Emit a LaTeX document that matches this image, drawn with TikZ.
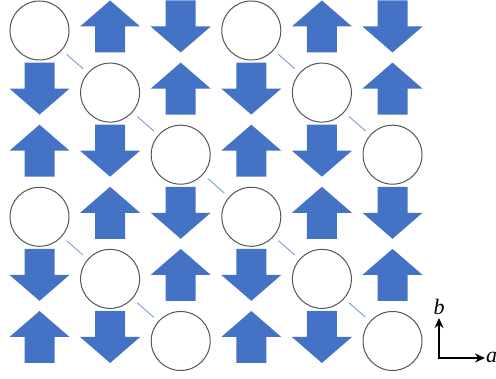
\documentclass[tikz,border=0pt]{standalone}
\usepackage{fontspec}
\newfontfamily\lserif{Liberation Serif}
\usetikzlibrary{arrows.meta}
\definecolor{arrowblue}{RGB}{68,114,196}
\definecolor{linkblue}{RGB}{120,155,222}
\definecolor{ringgray}{RGB}{85,85,85}
\tikzset{
  site/.style={circle, draw=ringgray, line width=1pt, fill=white, minimum size=59pt, inner sep=0pt},
  link/.style={draw=linkblue, line width=0.9pt, shorten <=6pt, shorten >=6pt},
  axis/.style={draw=black, line width=2.2pt, -{Stealth[length=10pt,width=9pt]}},
  axlabel/.style={inner sep=0pt, font=\lserif\itshape\fontsize{22}{22}\selectfont},
  uparr/.pic={\fill[arrowblue] (0,-26) -- (30,0) -- (15,0) -- (15,26) -- (-15,26) -- (-15,0) -- (-30,0) -- cycle;},
  dnarr/.pic={\fill[arrowblue] (0,26) -- (30,0) -- (15,0) -- (15,-26) -- (-15,-26) -- (-15,0) -- (-30,0) -- cycle;}
}
\begin{document}
\begin{tikzpicture}[x=1pt,y=-1pt]
\useasboundingbox (0,0) rectangle (496,379);
% grid of sites and moments
\foreach \r in {1,...,6}{
  \foreach \c in {1,...,6}{
    \pgfmathsetmacro\xx{39.5+70.6*(\c-1)}
    \pgfmathsetmacro\yy{30.5+62.1*(\r-1)}
    \pgfmathtruncatemacro\t{mod(\c-\r+6,3)}
    \ifcase\t
      \node[site] (s\r\c) at (\xx,\yy) {};
    \or
      \pic at (\xx,\yy-4) {uparr};
    \or
      \pic at (\xx,\yy-4) {dnarr};
    \fi
  }
}
% connectors between diagonal neighbours
\draw[link] (s11) -- (s22);
\draw[link] (s22) -- (s33);
\draw[link] (s33) -- (s44);
\draw[link] (s44) -- (s55);
\draw[link] (s55) -- (s66);
\draw[link] (s14) -- (s25);
\draw[link] (s25) -- (s36);
\draw[link] (s41) -- (s52);
\draw[link] (s52) -- (s63);
% crystal axes
\coordinate (o) at (439,358);
\coordinate (btip) at (439,318);
\coordinate (atip) at (485,358);
\draw[axis] ([yshift=1.1pt]o) -- (btip);
\draw[axis] ([xshift=-1.1pt]o) -- (atip);
\node[axlabel, anchor=base] (lb) at (439,315) {b};
\node[axlabel, anchor=base west] (la) at (486,363) {a};
\end{tikzpicture}
\end{document}
